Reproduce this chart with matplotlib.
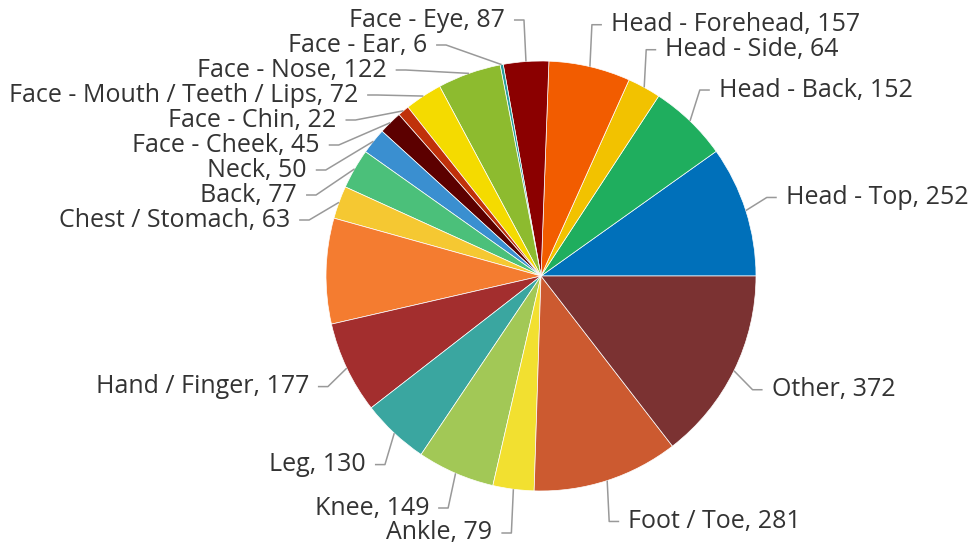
"""
Pie chart of injury locations (Highcharts-style labels with connectors).
Saves out.png at 970x548.
"""

import numpy as np
import matplotlib.pyplot as plt

W, H = 970, 548

categories = [
    "Head - Top", "Head - Back", "Head - Side", "Head - Forehead",
    "Face - Eye", "Face - Ear", "Face - Nose", "Face - Mouth / Teeth / Lips",
    "Face - Chin", "Face - Cheek", "Neck", "Back", "Chest / Stomach",
    "",  # slice with no visible label
    "Hand / Finger", "Leg", "Knee", "Ankle", "Foot / Toe", "Other",
]
values = [252, 152, 64, 157, 87, 6, 122, 72, 22, 45, 50, 77, 63,
          203, 177, 130, 149, 79, 281, 372]
colors = [
    "#0070ba", "#1fae5e", "#f2c200", "#f25c00", "#8b0000", "#2a9d9d",
    "#8dbb2f", "#f4db00", "#c0310a", "#5c0000", "#3a8fd0", "#4bc07a",
    "#f5c832", "#f47c30", "#a32e2e", "#3aa6a0", "#a2c856", "#f2e030",
    "#cc5a30", "#7b3232",
]

# geometry in pixels (y measured from the top)
cx, cy, r = 541, 276, 215
dist_lab = 43        # radial distance of labels from the pie edge
alto = 25            # vertical space per label
y_min, y_max = 20, 533

fig = plt.figure(figsize=(W / 100, H / 100), dpi=100)
ax = fig.add_axes([0, 0, 1, 1])

cunas, _ = ax.pie(values, colors=colors, startangle=0, counterclock=True,
                  center=(cx, H - cy), radius=r,
                  wedgeprops=dict(linewidth=0.5, edgecolor="white"))
ax.set_xlim(0, W)
ax.set_ylim(0, H)
ax.set_aspect("equal")
ax.axis("off")


def repartir(objetivos, tam, lo, hi):
    # merge overlapping labels into groups centred on the mean of their targets
    grupos = [[i] for i in range(len(objetivos))]
    pos = list(objetivos)
    cambio = True
    while cambio:
        cambio = False
        for g in range(len(grupos) - 1):
            if pos[g] + len(grupos[g]) * tam > pos[g + 1] + 1e-9:
                nuevo = grupos[g] + grupos[g + 1]
                media = np.mean([objetivos[i] for i in nuevo])
                p = media - (len(nuevo) - 1) * tam / 2
                p = min(max(p, lo), hi - (len(nuevo) - 1) * tam)
                grupos[g:g + 2] = [nuevo]
                pos[g:g + 2] = [p]
                cambio = True
                break
        for g in range(len(grupos)):
            n = len(grupos[g])
            pos[g] = min(max(pos[g], lo), hi - (n - 1) * tam)
    salida = [0.0] * len(objetivos)
    for g, items in enumerate(grupos):
        for k, i in enumerate(items):
            salida[i] = pos[g] + k * alto
    return salida


R = r + dist_lab
etiquetas = []
for nombre, valor, cuna in zip(categories, values, cunas):
    if not nombre:
        continue
    ang = np.deg2rad((cuna.theta1 + cuna.theta2) / 2)
    etiquetas.append(dict(
        texto=f"{nombre}, {valor}",
        lado=1 if np.cos(ang) >= 0 else -1,
        borde=(cx + r * np.cos(ang), cy - r * np.sin(ang)),
        objetivo=cy - R * np.sin(ang),
    ))

for lado in (1, -1):
    grupo = sorted([e for e in etiquetas if e["lado"] == lado], key=lambda e: e["objetivo"])
    ys = repartir([e["objetivo"] for e in grupo], alto, y_min, y_max)
    for e, y in zip(grupo, ys):
        dy = y - cy
        gx = cx + lado * np.sqrt(max(R ** 2 - dy ** 2, 0))
        esquina = gx - lado * 20
        if lado == 1:
            esquina = max(esquina, e["borde"][0] + 2)
        else:
            esquina = min(esquina, e["borde"][0] - 2)
        xs = [e["borde"][0], esquina, esquina + lado * 10]
        yl = [e["borde"][1], y, y]
        ax.plot(xs, [H - v for v in yl], color="#999999", linewidth=1.1,
                solid_capstyle="butt", zorder=1)
        ax.text(esquina + lado * 19, H - y, e["texto"],
                ha="left" if lado == 1 else "right", va="center",
                fontsize=18, family="Open Sans", color="#333333")

fig.savefig("out.png", dpi=100)
